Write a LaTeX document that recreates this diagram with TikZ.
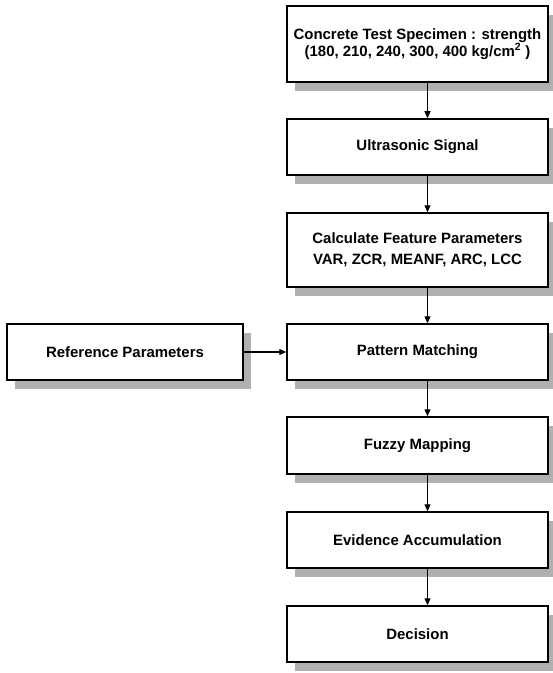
\documentclass[tikz,border=0pt]{standalone}
\usepackage{fontspec}
\setmainfont{Liberation Sans}
\usetikzlibrary{arrows.meta,shadows}

\tikzset{
  block/.style={draw=black, line width=1.5bp, fill=white, minimum width=261bp, minimum height=56bp,
    inner sep=0pt, align=center, font=\bfseries\fontsize{15}{15.5}\selectfont,
    drop shadow={shadow xshift=8bp, shadow yshift=-9bp, fill=gray!62, opacity=1}},
  flow/.style={black, line width=1.2bp, -{Triangle[length=7bp,width=6bp]}}
}

\begin{document}
\begin{tikzpicture}[x=1bp,y=-1bp]
\useasboundingbox (0,0) rectangle (553,673);

\node[block, minimum height=76bp] (spec) at (417.5,44) {Concrete Test Specimen : strength\\(180, 210, 240, 300, 400 kg/cm\textsuperscript{2} )};
\node[block] (signal) at (417.5,147) {Ultrasonic Signal};
\node[block, minimum height=74bp, font=\bfseries\fontsize{15}{21}\selectfont] (feature) at (417.5,250) {Calculate Feature Parameters\\VAR, ZCR, MEANF, ARC, LCC};
\node[block] (match) at (417.5,352) {Pattern Matching};
\node[block, minimum width=236bp] (ref) at (125,352) {Reference Parameters};
\node[block, minimum height=57bp] (fuzzy) at (417.5,445.5) {Fuzzy Mapping};
\node[block] (evid) at (417.5,540) {Evidence Accumulation};
\node[block] (dec) at (417.5,634) {Decision};

\draw[flow] ([xshift=10bp]spec.south) -- ([xshift=10bp]signal.north);
\draw[flow] ([xshift=10bp]signal.south) -- ([xshift=10bp]feature.north);
\draw[flow] ([xshift=10bp]feature.south) -- ([xshift=10bp]match.north);
\draw[flow] ([xshift=10bp]match.south) -- ([xshift=10bp]fuzzy.north);
\draw[flow] ([xshift=10bp]fuzzy.south) -- ([xshift=10bp]evid.north);
\draw[flow] ([xshift=10bp]evid.south) -- ([xshift=10bp]dec.north);
\draw[flow] (ref) -- (match);
\end{tikzpicture}
\end{document}
